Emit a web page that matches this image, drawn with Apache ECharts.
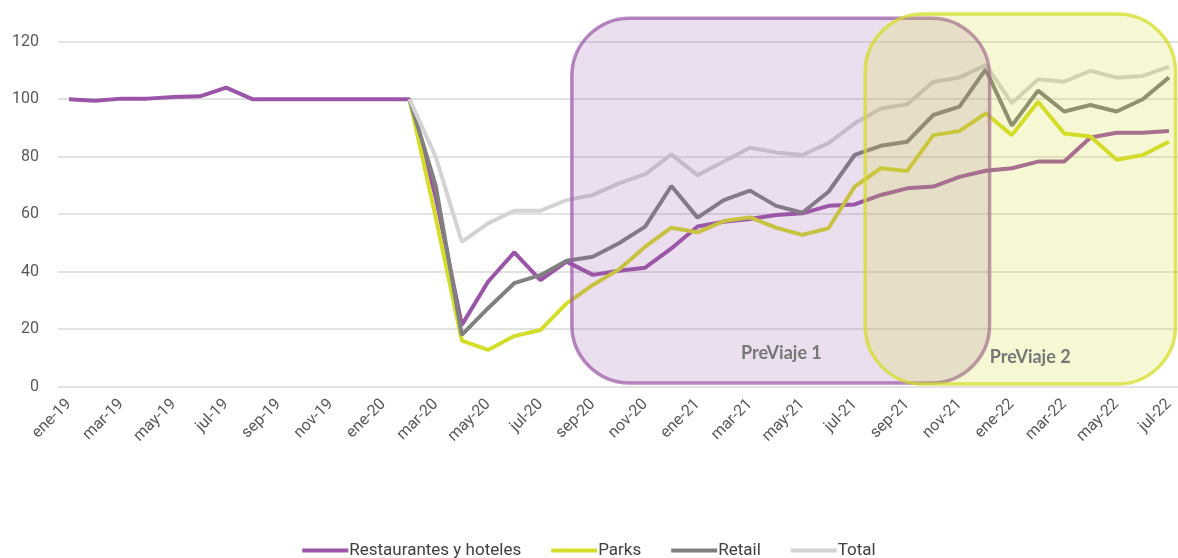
<!DOCTYPE html>
<html>
<head>
<meta charset="utf-8">
<script src="https://cdn.jsdelivr.net/npm/echarts@6/dist/echarts.min.js"></script>
<style>
  html, body { margin: 0; padding: 0; background: #fff; }
  #chart { width: 1178px; height: 558px; }
</style>
</head>
<body>
<div id="chart"></div>
<script>
const months = [
  'ene-19', 'feb-19', 'mar-19', 'abr-19', 'may-19', 'jun-19', 'jul-19', 'ago-19', 'sep-19', 'oct-19', 'nov-19', 'dic-19',
  'ene-20', 'feb-20', 'mar-20', 'abr-20', 'may-20', 'jun-20', 'jul-20', 'ago-20', 'sep-20', 'oct-20', 'nov-20', 'dic-20',
  'ene-21', 'feb-21', 'mar-21', 'abr-21', 'may-21', 'jun-21', 'jul-21', 'ago-21', 'sep-21', 'oct-21', 'nov-21', 'dic-21',
  'ene-22', 'feb-22', 'mar-22', 'abr-22', 'may-22', 'jun-22', 'jul-22'
]
const restaurantes = [
  100, 99.5, 100.2, 100.2, 100.8, 101, 104, 100, 100, 100, 100, 100,
  100, 100, 66, 21.5, 36.5, 46.7, 37.1, 43.5, 38.9, 40.3, 41.4, 48.1,
  55.7, 57.4, 58.3, 59.7, 60.3, 62.9, 63.4, 66.7, 69, 69.6, 73, 75.1,
  76, 78.3, 78.3, 86.7, 88.3, 88.3, 88.9
]
const parks = [
  null, null, null, null, null, null, null, null, null, null, null, null,
  null, 100, 59, 16, 12.8, 17.6, 19.7, 29, 35.4, 40.8, 48.7, 55.3,
  53.7, 57.6, 58.9, 55.3, 52.8, 55.1, 69.6, 76, 75, 87.5, 88.9, 95.1,
  87.5, 99.1, 88.1, 87, 78.9, 80.6, 85.2
]
const retail = [
  null, null, null, null, null, null, null, null, null, null, null, null,
  null, 100, 70, 18, 27.3, 36, 38.8, 43.8, 45.2, 49.9, 55.7, 69.8,
  58.8, 64.9, 68.2, 62.9, 60.5, 67.8, 80.6, 83.8, 85.2, 94.5, 97.4, 110.4,
  90.8, 103, 95.7, 98, 95.7, 100, 107.6
]
const total = [
  null, null, null, null, null, null, null, null, null, null, null, null,
  null, 100, 80, 50.4, 56.8, 61.2, 61.2, 64.9, 66.7, 70.7, 73.9, 80.8,
  73.6, 78.3, 83.1, 81.5, 80.6, 84.7, 91.6, 96.8, 98.2, 106.1, 107.5, 111.9,
  98.6, 106.9, 106.1, 109.9, 107.5, 108.1, 111.3
]
const seriesNames = ['Restaurantes y hoteles', 'Parks', 'Retail', 'Total']
const seriesColors = ['#9b55a8', '#d4dd2a', '#808080', '#d3d3d3']

// PreViaje periods, in category index / value units
const previaje = [
  { label: 'PreViaje 1', from: 19.2, to: 35.15, low: 1.3, high: 128.2, textAt: [27.2, 11.7],
    fill: 'rgba(155,89,168,0.2)', stroke: 'rgba(155,89,168,0.72)' },
  { label: 'PreViaje 2', from: 30.4, to: 42.25, low: 0.9, high: 129.6, textAt: [36.7, 10.3],
    fill: 'rgba(212,221,42,0.2)', stroke: 'rgba(212,221,42,0.75)' }
]

const chart = echarts.init(document.getElementById('chart'))

const option = {
  animation: false,
  grid: [
    { left: 69, right: 9, top: 41.7, bottom: 171.3 },
    { left: 58, right: 0, top: 41.7, bottom: 171.3 }
  ],
  legend: {
    data: seriesNames,
    bottom: -6,
    left: 'center',
    icon: 'rect',
    itemWidth: 46,
    itemHeight: 4,
    itemGap: 30,
    textStyle: { fontFamily: 'Roboto', fontSize: 17, color: '#404040', padding: [0, 0, 0, -4] }
  },
  xAxis: [
    {
      type: 'category',
      gridIndex: 0,
      data: months,
      boundaryGap: false,
      axisLine: { show: false },
      axisTick: { show: false },
      axisLabel: {
        interval: 1,
        rotate: 45,
        margin: 15,
        fontFamily: 'Roboto',
        fontSize: 16,
        color: '#595959'
      },
      splitLine: { show: false }
    },
    { type: 'value', gridIndex: 1, show: false }
  ],
  yAxis: [
    { type: 'value', gridIndex: 0, min: 0, max: 120, interval: 20, show: false },
    {
      type: 'value',
      gridIndex: 1,
      min: 0,
      max: 120,
      interval: 20,
      axisLine: { show: false },
      axisTick: { show: false },
      axisLabel: { margin: 19, fontFamily: 'Roboto', fontSize: 16, color: '#595959' },
      splitLine: { lineStyle: { color: '#d9d9d9', width: 1.5 } }
    }
  ],
  series: [restaurantes, parks, retail, total].map((d, i) => ({
    name: seriesNames[i],
    type: 'line',
    xAxisIndex: 0,
    yAxisIndex: 0,
    data: d,
    showSymbol: false,
    symbol: 'none',
    color: seriesColors[i],
    lineStyle: { width: 4, color: seriesColors[i] }
  }))
}
chart.setOption(option)

// boxes drawn over the lines, positioned from the data axes
const x0 = chart.convertToPixel({ xAxisIndex: 0 }, 0)
const step = chart.convertToPixel({ xAxisIndex: 0 }, 1) - x0
const px = i => x0 + i * step
const py = v => chart.convertToPixel({ yAxisIndex: 0 }, v)

const graphic = []
previaje.forEach((b, k) => {
  graphic.push({
    type: 'rect',
    z: 10 + k * 2,
    shape: { x: px(b.from), y: py(b.high), width: px(b.to) - px(b.from), height: py(b.low) - py(b.high), r: 58 },
    style: { fill: b.fill, stroke: b.stroke, lineWidth: 3.5 }
  })
  graphic.push({
    type: 'text',
    z: 11 + k * 2,
    x: px(b.textAt[0]),
    y: py(b.textAt[1]),
    style: {
      text: b.label,
      fill: '#777777',
      font: 'bold 18px Lato',
      align: 'center',
      verticalAlign: 'middle'
    }
  })
})
chart.setOption({ graphic })
</script>
</body>
</html>
